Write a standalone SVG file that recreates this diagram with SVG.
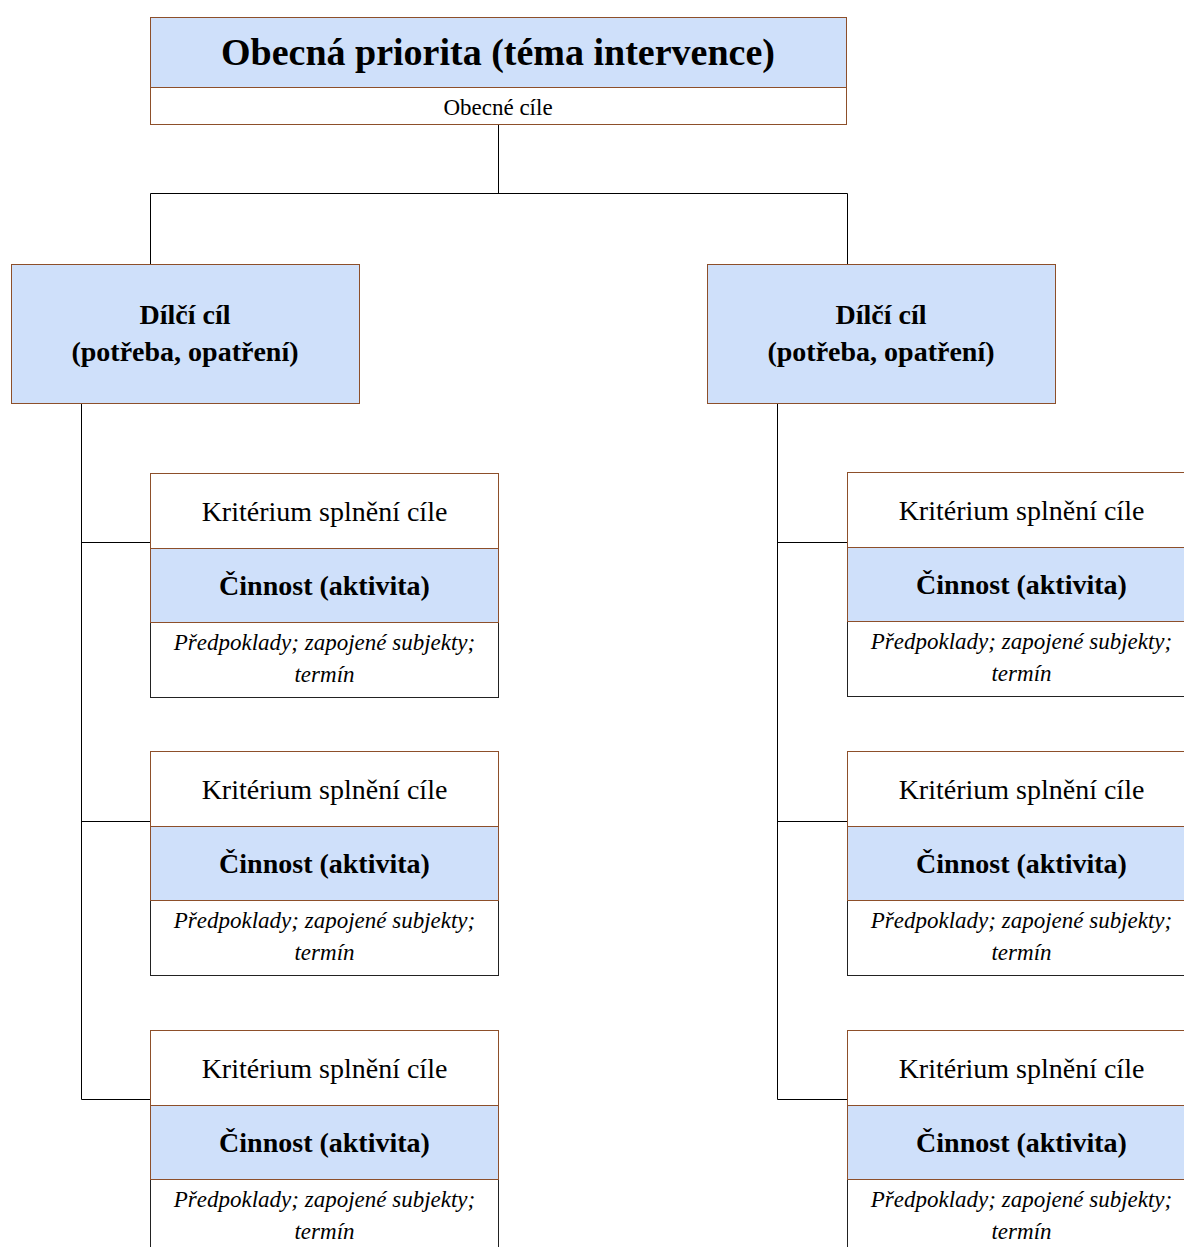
<svg xmlns="http://www.w3.org/2000/svg" width="1184" height="1247" viewBox="0 0 1184 1247" font-family="'Liberation Serif', 'Times New Roman', serif">
<style>
.blue{fill:#cfe0fa;stroke:#8d4f2a;stroke-width:1}
.wh{fill:#ffffff;stroke:#8d4f2a;stroke-width:1}
.whd{fill:#ffffff;stroke:#222;stroke-width:1}
.ln{fill:none;stroke:#000;stroke-width:1}
text{font-family:'Liberation Serif','Times New Roman',serif;fill:#000;text-anchor:middle}
.t1{font-size:38px;font-weight:bold}
.t2{font-size:23px}
.t3{font-size:28px;font-weight:bold}
.kr{font-size:28px}
.ci{font-size:28px;font-weight:bold}
.pr{font-size:23px;font-style:italic}
</style>
<defs>
<g id="act">
<rect class="whd" x="0" y="149" width="348" height="75"/>
<rect class="wh" x="0" y="0" width="348" height="75"/>
<rect class="blue" x="0" y="75" width="348" height="74"/>
<text class="kr" x="174" y="47">Kritérium splnění cíle</text>
<text class="ci" x="174" y="121">Činnost (aktivita)</text>
<text class="pr" x="174" y="176">Předpoklady; zapojené subjekty;</text>
<text class="pr" x="174" y="208">termín</text>
</g>
</defs>
<g id="connectors">
<path class="ln" d="M498.5 124V193.5M150.5 264V193.5H847.5V264"/>
<path class="ln" d="M81.5 403V1099.5H150M81.5 542.5H150M81.5 821.5H150"/>
<path class="ln" d="M777.5 403V1099.5H847M777.5 542.5H847M777.5 821.5H847"/>
</g>
<g id="top">
<rect class="wh" x="150.5" y="87.5" width="696" height="37"/>
<rect class="blue" x="150.5" y="17.5" width="696" height="70"/>
<text class="t1" x="498" y="65">Obecná priorita (téma intervence)</text>
<text class="t2" x="498" y="115">Obecné cíle</text>
</g>
<g id="goal-left">
<rect class="blue" x="11.5" y="264.5" width="348" height="139"/>
<text class="t3" x="185" y="324">Dílčí cíl</text>
<text class="t3" x="185" y="361">(potřeba, opatření)</text>
</g>
<g id="goal-right">
<rect class="blue" x="707.5" y="264.5" width="348" height="139"/>
<text class="t3" x="881" y="324">Dílčí cíl</text>
<text class="t3" x="881" y="361">(potřeba, opatření)</text>
</g>
<g id="act-l1"><use href="#act" x="150.5" y="473.5"/></g>
<g id="act-l2"><use href="#act" x="150.5" y="751.5"/></g>
<g id="act-l3"><use href="#act" x="150.5" y="1030.5"/></g>
<g id="act-r1"><use href="#act" x="847.5" y="472.5"/></g>
<g id="act-r2"><use href="#act" x="847.5" y="751.5"/></g>
<g id="act-r3"><use href="#act" x="847.5" y="1030.5"/></g>
</svg>
